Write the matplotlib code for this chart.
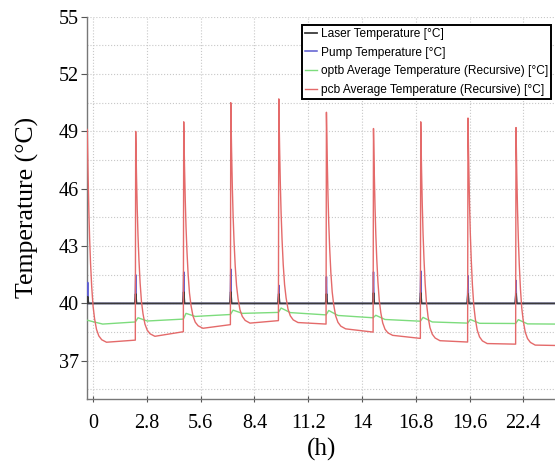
import matplotlib
matplotlib.use("Agg")
import matplotlib.pyplot as plt
import numpy as np

# ---------------- data ----------------
x_ticks = [0, 2.8, 5.6, 8.4, 11.2, 14, 16.8, 19.6, 22.4]
x_tick_labels = ["0", "2.8", "5.6", "8.4", "11.2", "14", "16.8", "19.6", "22.4"]
y_ticks = [37, 40, 43, 46, 49, 52, 55]

# pcb average temperature (red)
pcb_t = [-0.30, -0.26, -0.22, -0.18, -0.13, -0.07, 0.00, 0.08, 0.18, 0.30, 0.45, 0.70, 2.20,
         2.22, 2.26, 2.30, 2.34, 2.39, 2.45, 2.52, 2.60, 2.70, 2.82, 2.97, 3.22, 4.70,
         4.72, 4.76, 4.80, 4.84, 4.89, 4.95, 5.02, 5.10, 5.20, 5.32, 5.47, 5.72, 7.15,
         7.17, 7.21, 7.25, 7.29, 7.34, 7.40, 7.47, 7.55, 7.65, 7.77, 7.92, 8.17, 9.65,
         9.67, 9.71, 9.75, 9.79, 9.84, 9.90, 9.97, 10.05, 10.15, 10.27, 10.42, 10.67, 12.13,
         12.15, 12.19, 12.23, 12.27, 12.32, 12.38, 12.45, 12.53, 12.63, 12.75, 12.90, 13.15, 14.58,
         14.60, 14.64, 14.68, 14.72, 14.77, 14.83, 14.90, 14.98, 15.08, 15.20, 15.35, 15.60, 17.04,
         17.06, 17.10, 17.14, 17.18, 17.23, 17.29, 17.36, 17.44, 17.54, 17.66, 17.81, 18.06, 19.50,
         19.52, 19.56, 19.60, 19.64, 19.69, 19.75, 19.82, 19.90, 20.00, 20.12, 20.27, 20.52, 22.00,
         22.02, 22.06, 22.10, 22.14, 22.19, 22.25, 22.32, 22.40, 22.50, 22.62, 22.77, 23.02, 24.10]
pcb_v = [49.10, 46.76, 44.87, 43.42, 42.09, 40.86, 39.86, 39.19, 38.64, 38.30, 38.10, 37.97, 38.08,
         49.00, 46.75, 44.93, 43.53, 42.25, 41.07, 40.10, 39.46, 38.92, 38.60, 38.41, 38.28, 38.52,
         49.50, 47.23, 45.40, 43.99, 42.70, 41.51, 40.54, 39.89, 39.35, 39.02, 38.83, 38.70, 38.89,
         50.50, 48.08, 46.12, 44.62, 43.24, 41.97, 40.93, 40.24, 39.66, 39.32, 39.11, 38.97, 39.10,
         50.70, 48.24, 46.25, 44.73, 43.33, 42.04, 40.99, 40.29, 39.70, 39.35, 39.14, 39.00, 38.92,
         50.00, 47.62, 45.69, 44.22, 42.86, 41.62, 40.60, 39.92, 39.35, 39.01, 38.81, 38.67, 38.50,
         49.15, 46.88, 45.04, 43.63, 42.33, 41.14, 40.17, 39.52, 38.98, 38.65, 38.46, 38.33, 38.17,
         49.50, 47.10, 45.15, 43.66, 42.29, 41.03, 40.00, 39.31, 38.74, 38.39, 38.19, 38.05, 37.98,
         49.70, 47.22, 45.22, 43.68, 42.27, 40.97, 39.91, 39.20, 38.61, 38.25, 38.04, 37.90, 37.87,
         49.20, 46.81, 44.88, 43.40, 42.03, 40.78, 39.75, 39.07, 38.50, 38.16, 37.96, 37.82, 37.80]

# optb average temperature (green)
optb_t = [-0.30, 0.50, 2.20, 2.34, 2.82, 4.70, 4.84, 5.32, 7.15, 7.29, 7.77,
          9.65, 9.79, 10.27, 12.13, 12.27, 12.75, 14.58, 14.72, 15.20,
          17.04, 17.18, 17.66, 19.50, 19.64, 20.12, 22.00, 22.14, 22.62, 24.10]
optb_v = [39.12, 38.92, 39.03, 39.25, 39.08, 39.18, 39.48, 39.32, 39.42, 39.65, 39.48,
          39.53, 39.76, 39.52, 39.40, 39.63, 39.37, 39.25, 39.38, 39.16,
          39.07, 39.27, 39.03, 38.97, 39.16, 38.96, 38.95, 39.15, 38.93, 38.92]

# pump temperature (blue)
pump_t = [-0.30, -0.28, -0.26, 2.19, 2.22, 2.25, 4.69, 4.72, 4.75, 7.14, 7.17, 7.20,
          9.64, 9.67, 9.70, 12.12, 12.15, 12.18, 14.57, 14.60, 14.63, 17.03, 17.06, 17.09,
          19.49, 19.52, 19.55, 21.99, 22.02, 22.05, 24.10]
pump_v = [40.0, 41.10, 40.0, 40.0, 41.50, 40.0, 40.0, 41.65, 40.0, 40.0, 41.80, 40.0,
          40.0, 40.95, 40.0, 40.0, 41.40, 40.0, 40.0, 41.65, 40.0, 40.0, 41.70, 40.0,
          40.0, 41.45, 40.0, 40.0, 41.20, 40.0, 40.0]

# laser temperature (black)
laser_t = [-0.30, -0.28, -0.24, 2.18, 2.22, 2.26, 4.68, 4.72, 4.76, 7.13, 7.17, 7.21,
           9.63, 9.67, 9.71, 12.11, 12.15, 12.19, 14.56, 14.60, 14.64, 17.02, 17.06, 17.10,
           19.48, 19.52, 19.56, 21.98, 22.02, 22.06, 24.10]
laser_v = [40.0, 40.35, 40.0, 40.0, 40.50, 40.0, 40.0, 40.60, 40.0, 40.0, 40.60, 40.0,
           40.0, 40.50, 40.0, 40.0, 40.50, 40.0, 40.0, 40.55, 40.0, 40.0, 40.55, 40.0,
           40.0, 40.50, 40.0, 40.0, 40.50, 40.0, 40.0]

labels = ["Laser Temperature [°C]", "Pump Temperature [°C]",
          "optb Average Temperature (Recursive) [°C]",
          "pcb Average Temperature (Recursive) [°C]"]

# ---------------- figure ----------------
W, H = 555, 466
fig = plt.figure(figsize=(W / 100, H / 100), dpi=100)
L, R, T, B = 87.3, 555, 16.7, 399
ax = fig.add_axes([L / W, 1 - B / H, (R - L) / W, (B - T) / H])

serif = "Liberation Serif"
sans = "Liberation Sans"

h_pump, = ax.plot(pump_t, pump_v, color="#5a5ad0", lw=1.1, zorder=3)
h_laser, = ax.plot(laser_t, laser_v, color="#3a3a3a", lw=1.3, zorder=4)
h_optb, = ax.plot(optb_t, optb_v, color="#7ddc7d", lw=1.0, zorder=5)
h_pcb, = ax.plot(pcb_t, pcb_v, color="#e46a6a", lw=1.0, zorder=6)

ax.set_xlim(-0.3, 24.05)
ax.set_ylim(35, 55)

ax.set_xticks(x_ticks)
ax.set_xticklabels(x_tick_labels)
ax.set_yticks(y_ticks)
ax.set_yticks(list(np.arange(35.5, 55.01, 1.5)), minor=True)
ax.tick_params(axis="y", which="minor", length=0)
ax.tick_params(axis="x", which="major", direction="inout", length=5, width=0.8,
               color="#555555", pad=8, labelsize=14.5)
ax.tick_params(axis="y", which="major", direction="out", length=4, width=0.8,
               color="#555555", pad=2, labelsize=14.5)
for lab in ax.get_xticklabels() + ax.get_yticklabels():
    lab.set_fontfamily(serif)

ax.grid(True, axis="x", which="major", linestyle=":", color="#c8c8c8", lw=0.8)
ax.grid(True, axis="y", which="both", linestyle=":", color="#c8c8c8", lw=0.8)
ax.set_axisbelow(True)

for s in ["top", "right"]:
    ax.spines[s].set_visible(False)
for s in ["left", "bottom"]:
    ax.spines[s].set_color("#777777")
    ax.spines[s].set_linewidth(1.0)

ax.set_ylabel("Temperature (°C)", fontfamily=serif, fontsize=18.5, labelpad=14)
ax.set_xlabel("(h)", fontfamily=serif, fontsize=18, labelpad=4)

leg = ax.legend([h_laser, h_pump, h_optb, h_pcb], labels,
                loc="upper right", bbox_to_anchor=((551 - L) / (R - L), 1 - (25 - T) / (B - T)),
                borderaxespad=0, prop={"family": sans, "size": 8.6},
                frameon=True, fancybox=False, shadow=False, framealpha=1,
                handlelength=1.0, handletextpad=0.3, labelspacing=0.55,
                borderpad=0.25)
leg.get_frame().set_edgecolor("black")
leg.get_frame().set_linewidth(1.4)
leg.set_zorder(10)

fig.savefig("out.png", dpi=100)
